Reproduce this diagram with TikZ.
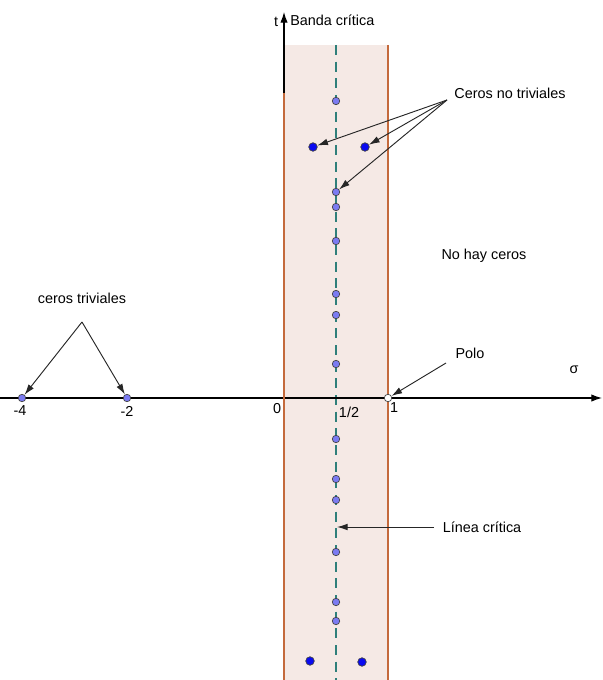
\documentclass[tikz,border=0pt]{standalone}
\usepackage{fontspec}
\setmainfont{Liberation Sans}
\usetikzlibrary{arrows.meta}

\definecolor{bandfill}{HTML}{F5E9E5}
\definecolor{bandedge}{HTML}{C46A3C}
\definecolor{critline}{HTML}{2F7F7A}
\definecolor{zerolight}{HTML}{7B7BF2}
\definecolor{zerodark}{HTML}{0A0AF0}

\begin{document}
\begin{tikzpicture}[
    x=0.75pt,
    y=-0.75pt,
    line join=round,
    txt/.style={
        font=\fontsize{10.8}{12}\selectfont,
        inner sep=0pt,
        text depth=0pt
    },
    zero/.style={
        circle,
        draw=black!75,
        line width=0.5pt,
        fill=zerolight,
        inner sep=0pt,
        minimum size=5.6pt
    },
    zerobig/.style={
        zero,
        fill=zerodark,
        minimum size=6.4pt
    },
    pointer/.style={
        draw=black!85,
        line width=0.7pt,
        -{Latex[length=8pt,width=5pt]}
    }
]
    % Picture frame
    \useasboundingbox (0,0) rectangle (602,680);

    % Strip geometry
    \def\yaxis{398}
    \pgfmathsetmacro{\xzero}{284}
    \pgfmathsetmacro{\xhalf}{336}
    \pgfmathsetmacro{\xone}{388}

    % Critical strip
    \fill[bandfill] (\xzero,45) rectangle (\xone,680);
    \draw[critline, line width=0.9pt, dash pattern=on 7.5pt off 5pt]
        (\xhalf,45) -- (\xhalf,680);

    % Axes
    \draw[line width=0.8pt, -{Latex[length=8pt,width=5.5pt]}] (0,\yaxis) -- (602,\yaxis);
    \draw[line width=0.8pt, -{Latex[length=8pt,width=5.5pt]}] (\xzero,680) -- (\xzero,12);

    % Strip borders
    \draw[bandedge, line width=0.9pt] (\xzero,93) -- (\xzero,680);
    \draw[bandedge, line width=0.9pt] (\xone,45) -- (\xone,680);

    % Axis texts
    \node[txt] (tlab) at (276,22) {t};
    \node[txt, anchor=west] (banda) at (290,20) {Banda crítica};
    \node[txt] (sigma) at (574,370) {σ};
    \node[txt] (lmfour) at (20,411) {-4};
    \node[txt] (lmtwo) at (127,411) {-2};
    \node[txt] (lzero) at (277,408) {0};
    \node[txt] (lhalf) at (349,412) {1/2};
    \node[txt] (lone) at (394,408) {1};

    % Zeros on the critical line
    \foreach \y [count=\i] in {101,192,207,241,294,315,364,439,479,500,552,602,621} {
        \node[zero] (z\i) at (\xhalf,\y) {};
    }

    % Zeros off the line
    \node[zerobig] (zl) at (313,147) {};
    \node[zerobig] (zr) at (365,147) {};
    \node[zerobig] (zbl) at (310,661) {};
    \node[zerobig] (zbr) at (362,662) {};

    % Trivial zeros and pole
    \node[zero] (mfour) at (22,\yaxis) {};
    \node[zero] (mtwo) at (127,\yaxis) {};
    \node[zero, fill=white] (polo) at (\xone,\yaxis) {};

    % Annotations
    \node[txt] (ntriv) at (510,93) {Ceros no triviales};
    \coordinate (ntfoot) at (447,100);
    \draw[pointer] (ntfoot) -- (zl);
    \draw[pointer] (ntfoot) -- (zr);
    \draw[pointer] (ntfoot) -- (z2);

    \node[txt] (nohay) at (484,254) {No hay ceros};

    \node[txt] (triv) at (82,298) {ceros triviales};
    \coordinate (ctfoot) at (82,322);
    \draw[pointer] (ctfoot) -- (mfour);
    \draw[pointer] (ctfoot) -- (mtwo);

    \node[txt] (polotxt) at (470,353) {Polo};
    \coordinate (polofoot) at (446,363);
    \draw[pointer] (polofoot) -- (polo);

    \node[txt] (linea) at (482,527) {Línea crítica};
    \coordinate (critfoot) at (434,527);
    \coordinate (critpt) at (\xhalf+1,527);
    \draw[pointer] (critfoot) -- (critpt);
\end{tikzpicture}
\end{document}
